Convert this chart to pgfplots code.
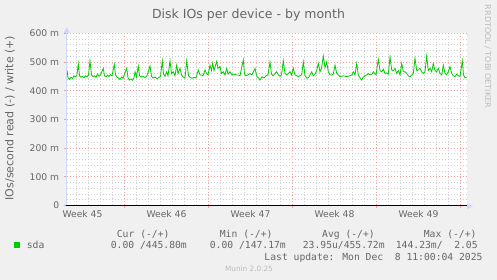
\documentclass[border=0pt]{standalone}
\usepackage{pgfplots}
\pgfplotsset{compat=1.18}
\usepackage{fontspec}
\setmainfont{DejaVu Sans}
\newfontfamily\mono{DejaVu Sans Mono}
\usetikzlibrary{arrows.meta}
\definecolor{bg}{HTML}{F0F0F0}
\definecolor{fontc}{HTML}{666666}
\definecolor{axisc}{HTML}{CFD6F8}
\definecolor{gridc}{HTML}{D0D0D0}
\definecolor{mgridc}{HTML}{F2A0A0}
\definecolor{sdac}{HTML}{00CC00}
\definecolor{wmark}{HTML}{BBBBBB}
\begin{document}
\begin{tikzpicture}[x=1pt,y=1pt]
\fill[bg] (0,0) rectangle (497,280);
\begin{axis}[
  at={(66.7pt,74.5pt)}, anchor=south west,
  scale only axis, width=400pt, height=172.2pt,
  xmin=66.7, xmax=466.7, ymin=0, ymax=600,
  clip=false,
  axis background/.style={fill=white},
  axis x line*=bottom, axis y line*=left,
  axis line style={draw=axisc, line width=1pt},
  grid=both,
  major grid style={draw=mgridc, dash pattern=on 1pt off 2pt, line width=0.7pt},
  minor grid style={draw=gridc, dash pattern=on 1pt off 2pt, line width=0.7pt},
  xtick={124.5,208.5,292.5,376.5,460.5},
  xticklabels={,,,,},
  minor xtick={76.5,88.5,...,460.5},
  extra x ticks={82.5,166.5,250.5,334.5,418.5},
  extra x tick labels={Week 45,Week 46,Week 47,Week 48,Week 49},
  extra x tick style={grid=none, major tick length=0pt},
  ytick={0,100,...,600},
  yticklabels={0\hspace{6pt},100 m,200 m,300 m,400 m,500 m,600 m},
  minor ytick={20,40,...,580},
  tick align=outside,
  major tick length=3pt, minor tick length=0pt,
  every tick/.style={draw=mgridc, line width=0.7pt},
  ticklabel style={font=\fontsize{9.2}{11}\selectfont, text=fontc},
  xticklabel style={yshift=-1pt},
  yticklabel style={xshift=-1pt},
]
\addplot[sdac, line width=0.8pt] coordinates {
(67,472) (68,445) (69.5,440) (71,447) (72.5,442) (74,452) (75.5,448) (77,455)
(78.3,494) (79.5,452) (81,447) (82.5,450) (84,445) (85.5,452) (87,448) (88.5,455)
(90,504) (91.5,455) (93,449) (94.5,452) (96,446) (97.5,458) (99,450) (100.5,455)
(103.3,478) (104.5,452) (106,448) (107.5,454) (109,450) (110.5,456) (112,452)
(114.3,492) (115.5,455) (117,447) (118.5,444) (120,439) (121.5,447) (123,443)
(126.7,478) (128,445) (129.5,437) (131,441) (132.5,436) (134,445) (135,466) (136.5,448)
(138.3,486) (139.5,452) (141,448) (143,450) (145,446) (147,452)
(150,486) (151.5,450) (153,444) (155,448) (157,442) (159,446) (160.5,450)
(162.3,504) (163.5,458) (165,450) (166.7,466) (168,452)
(170,504) (171.5,460) (173.3,466) (175,452) (176.7,489) (178,460) (180,478) (181.5,455) (183,448) (185,444)
(186.7,504) (188.5,452) (190,447) (192,443) (194,446) (196,445) (198.3,472) (200,455) (201.7,455) (203,452)
(205,472) (206.5,460) (208,455) (210,489) (211.5,470) (212.7,496) (214,470) (216.7,502) (218,478) (220,484)
(221.5,460) (223.3,466) (225,455) (226.7,478) (228,458) (230,466) (232,455) (234,458) (236,455) (238.3,455) (240,452)
(243.3,507) (244.5,458) (246,452) (248,455)
(250,460) (251.7,455) (253.3,465) (255,478) (256.7,450) (258.3,445) (260,437) (262,448) (264,444) (266,452) (268,455)
(270,500) (271.5,458) (273,452) (275,460) (276.7,466) (278.3,455) (280,450) (281.5,455)
(283.3,504) (285,460) (287,455) (290,466) (291.5,455) (293.3,478) (295,455) (298.3,449) (300,452) (301.7,455)
(303.3,500) (305,452) (307,443) (309,448) (311.7,466) (313.3,452) (315,458) (316.7,470)
(318.3,495) (320,466) (321.5,478) (323.3,521) (325,480) (326.7,500) (328.3,466) (330,455) (331.7,455) (333.3,458)
(335,489) (336.7,460) (338.3,455) (340,449) (343.3,452) (346.7,449) (350,452) (352,455) (353.3,466) (355,455)
(356.7,495) (358.3,455) (360,445) (361.7,437) (363.3,448) (365,452) (366.7,455) (368.3,460) (370,455) (372,458) (373.3,466) (376,455)
(378.3,509) (380,470) (381.7,466) (383.3,475) (385,460) (386.7,462) (388.3,458)
(390,518) (391.7,472) (393.3,470) (395,478) (396.7,460) (398.3,470) (400,455)
(401.7,495) (403.3,466) (405,466) (406.7,460) (408.3,452) (410,448) (411.7,455) (413.3,460)
(415,513) (416.7,470) (418.3,472) (420,478) (421.7,466) (423.3,460) (425,466)
(426.7,521) (428.3,470) (430,478) (431.7,466) (433.3,495) (435,470) (436.7,466) (438.3,478) (440,460) (441.7,455)
(443.3,489) (445,460) (446.7,455) (448.3,466) (450,484) (451.7,460) (453.3,452) (455,449) (456.7,458) (458.3,452) (460,449)
(462.3,504) (463.5,455) (465,445) (466.5,447)
};
\addplot[black, line width=1pt] coordinates {(65.7,0) (466.7,0)};
\end{axis}
% axis arrows
\draw[axisc, line width=1pt] (66.7,74.5) -- (66.7,248);
\fill[axisc] (63.7,247) -- (69.7,247) -- (66.7,253) -- cycle;
\draw[axisc, line width=1pt] (466.7,73.8) -- (468,73.8);
\fill[axisc] (467,70.8) -- (467,76.8) -- (473,73.8) -- cycle;
% title and labels
\node[anchor=base, inner sep=0, text=fontc, font=\fontsize{12.5}{14}\selectfont] at (248.5,261.7) {Disk IOs per device - by month};
\node[anchor=base, rotate=90, inner sep=0, text=fontc, font=\fontsize{11}{13}\selectfont] at (13.3,162) {IOs/second read (-) / write (+)};
\node[anchor=base, rotate=-90, inner sep=0, text=wmark, font=\fontsize{8}{10}\selectfont] at (485,223.5) {RRDTOOL / TOBI OETIKER};
% legend
\begin{scope}[every node/.style={anchor=base west, inner sep=0, text=fontc, font=\mono\fontsize{9.7}{11}\selectfont}]
\node at (116.7,42.7) {Cur (-/+)};
\node at (219.7,42.7) {Min (-/+)};
\node at (322,42.7) {Avg (-/+)};
\node at (423.7,42.7) {Max (-/+)};
\fill[sdac] (14,32.3) rectangle (20,37.7);
\node at (26.7,31.3) {sda};
\node at (110.7,31.3) {0.00 /445.80m};
\node at (209.7,31.3) {0.00 /147.17m};
\node at (302.7,31.3) {23.95u/455.72m};
\node at (395.7,31.3) {144.23m/\ \ 2.05};
\node[anchor=base east] at (482.7,19.7) {Last update: Mon Dec\ \ 8 11:00:04 2025};
\end{scope}
\node[anchor=base, inner sep=0, text=wmark, font=\fontsize{7.3}{9}\selectfont] at (249,8) {Munin 2.0.25};
\pgfresetboundingbox
\path (0,0) rectangle (497,280);
\end{tikzpicture}
\end{document}
